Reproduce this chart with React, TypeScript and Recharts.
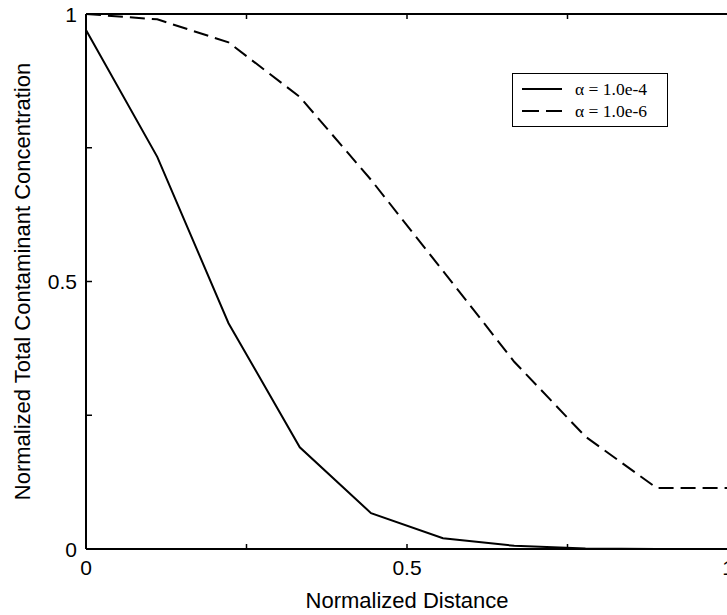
import React from 'react';
import { LineChart, Line, XAxis, YAxis, Legend } from 'recharts';

// normalized distance sampled at 10 points
const distance = [0, 0.111, 0.222, 0.333, 0.444, 0.556, 0.667, 0.778, 0.889, 1];
const alpha4 = [0.97, 0.733, 0.422, 0.19, 0.067, 0.02, 0.006, 0.001, 0, 0];
const alpha6 = [1.0, 0.99, 0.947, 0.845, 0.69, 0.52, 0.35, 0.21, 0.114, 0.114];

const tickValues = [0, 0.25, 0.5, 0.75, 1];
const tickLabels = ['0', '0.5', '1'];

const seriesNames = ['\u03b1 = 1.0e-4', '\u03b1 = 1.0e-6'];

const data = distance.map((d, i) => ({ d, a4: alpha4[i], a6: alpha6[i] }));

const TICK_FONT = { fontFamily: 'Liberation Sans, Arial, sans-serif', fontSize: 21, fill: '#000' };
const TITLE_STYLE = { fontFamily: 'Liberation Sans, Arial, sans-serif', fontSize: 22, fill: '#000' };
const fmt = (v: number) => String(v);

const BottomTick = ({ x, y, payload }: any) => (
  <g>
    <line x1={x} x2={x} y1={y} y2={y - 5} stroke="#000" strokeWidth={1.5} />
    {tickLabels.includes(fmt(payload.value)) && (
      <text x={x} y={y + 18} textAnchor="middle" dominantBaseline="central" {...TICK_FONT}>
        {fmt(payload.value)}
      </text>
    )}
  </g>
);

const TopTick = ({ x, y }: any) => (
  <line x1={x} x2={x} y1={y} y2={y + 5} stroke="#000" strokeWidth={1.5} />
);

const LeftTick = ({ x, y, payload }: any) => (
  <g>
    <line x1={x} x2={x + 6} y1={y} y2={y} stroke="#000" strokeWidth={1.5} />
    {tickLabels.includes(fmt(payload.value)) && (
      <text x={x - 9} y={y} textAnchor="end" dominantBaseline="central" {...TICK_FONT}>
        {fmt(payload.value)}
      </text>
    )}
  </g>
);

const RightTick = ({ x, y }: any) => (
  <line x1={x} x2={x - 6} y1={y} y2={y} stroke="#000" strokeWidth={1.5} />
);

const LegendBox = () => (
  <div
    style={{
      border: '1.5px solid #000',
      background: '#fff',
      width: 156,
      height: 54,
      boxSizing: 'border-box',
      fontFamily: 'Liberation Serif, Times New Roman, serif',
      fontSize: 17.5,
      paddingTop: 4,
    }}
  >
    {seriesNames.map((name, i) => (
      <div key={name} style={{ display: 'flex', alignItems: 'center', height: 22 }}>
        <svg width={62} height={10}>
          <line
            x1={9}
            x2={49}
            y1={5}
            y2={5}
            stroke="#000"
            strokeWidth={2}
            strokeDasharray={i === 1 ? '17 7' : undefined}
          />
        </svg>
        <span>{name}</span>
      </div>
    ))}
  </div>
);

export default function App() {
  return (
    <div style={{ position: 'absolute', left: 0, top: 0, width: 727, height: 615, overflow: 'hidden', background: '#fff' }}>
      <LineChart width={760} height={615} data={data} margin={{ top: 0, right: 0, bottom: 0, left: 0 }}>
        <XAxis
          xAxisId="bottom"
          dataKey="d"
          type="number"
          domain={[0, 1]}
          ticks={tickValues}
          height={66}
          tickSize={0}
          tickMargin={0}
          tickLine={false}
          tick={<BottomTick />}
          axisLine={{ stroke: '#000', strokeWidth: 2 }}
          label={{
            value: 'Normalized Distance',
            position: 'center',
            dy: 18,
            style: TITLE_STYLE,
          }}
        />
        <XAxis
          xAxisId="top"
          orientation="top"
          dataKey="d"
          type="number"
          domain={[0, 1]}
          ticks={tickValues}
          height={14}
          tickSize={0}
          tickMargin={0}
          tickLine={false}
          tick={<TopTick />}
          axisLine={{ stroke: '#000', strokeWidth: 2 }}
        />
        <YAxis
          yAxisId="left"
          type="number"
          domain={[0, 1]}
          ticks={tickValues}
          width={86}
          tickSize={0}
          tickMargin={0}
          tickLine={false}
          tick={<LeftTick />}
          axisLine={{ stroke: '#000', strokeWidth: 2 }}
          label={{
            value: 'Normalized Total Contaminant Concentration',
            angle: -90,
            position: 'center',
            dx: -21,
            style: { ...TITLE_STYLE, textAnchor: 'middle' },
          }}
        />
        <YAxis
          yAxisId="right"
          orientation="right"
          type="number"
          domain={[0, 1]}
          ticks={tickValues}
          width={32}
          tickSize={0}
          tickMargin={0}
          tickLine={false}
          tick={<RightTick />}
          axisLine={{ stroke: '#000', strokeWidth: 2 }}
        />
        <Legend
          layout="vertical"
          align="center"
          verticalAlign="middle"
          content={<LegendBox />}
          wrapperStyle={{ left: 512, top: 73, width: 156 }}
        />
        <Line
          xAxisId="bottom"
          yAxisId="left"
          dataKey="a4"
          name={seriesNames[0]}
          stroke="#000"
          strokeWidth={2}
          dot={false}
          type="linear"
          isAnimationActive={false}
        />
        <Line
          xAxisId="bottom"
          yAxisId="left"
          dataKey="a6"
          name={seriesNames[1]}
          stroke="#000"
          strokeWidth={2}
          strokeDasharray="15 7"
          dot={false}
          type="linear"
          isAnimationActive={false}
        />
      </LineChart>
    </div>
  );
}
